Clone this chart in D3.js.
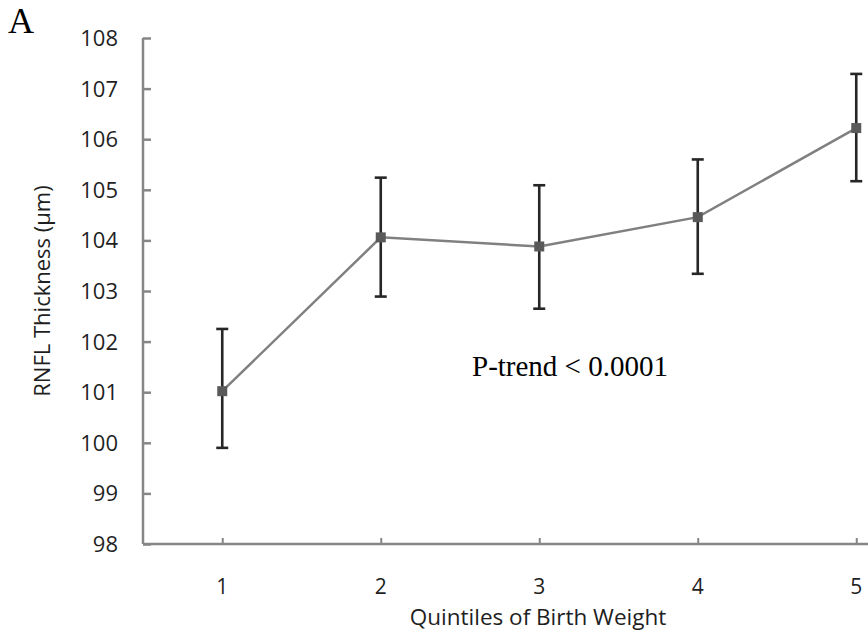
<!DOCTYPE html>
<html>
<head>
<meta charset="utf-8">
<script src="https://cdn.jsdelivr.net/npm/d3@7"></script>
<style>
  html, body { margin: 0; padding: 0; background: #fff; }
</style>
</head>
<body>
<div id="chart"></div>
<script>
const quintiles = [1, 2, 3, 4, 5]
const means = [101.02, 104.06, 103.88, 104.46, 106.22]
const lower = [99.9, 102.89, 102.65, 103.34, 105.17]
const upper = [102.25, 105.24, 105.09, 105.6, 107.29]
const yTicks = [98, 99, 100, 101, 102, 103, 104, 105, 106, 107, 108]

const width = 868
const height = 634
const axisX = 143
const axisY = 544
const band = 158.5

const data = quintiles.map((q, i) => ({ q, mean: means[i], lo: lower[i], hi: upper[i] }))

const x = d3.scaleLinear().domain([0.5, 5.5]).range([axisX, axisX + 5 * band])
const y = d3.scaleLinear().domain([98, 108]).range([axisY, 38])

const svg = d3
  .select('#chart')
  .append('svg')
  .attr('width', width)
  .attr('height', height)
  .attr('font-family', '"Open Sans", sans-serif')

const axisColor = '#868686'
const textColor = '#1f1f1f'

// y axis
const yAxis = svg
  .append('g')
  .attr('transform', `translate(${axisX},0)`)
  .call(d3.axisRight(y).tickValues(yTicks).tickSize(8).tickFormat(''))
yAxis.select('.domain').attr('stroke', axisColor).attr('stroke-width', 2.5).attr('d', `M0,${y(108)}V${axisY}`)
yAxis.selectAll('.tick line').attr('stroke', axisColor).attr('stroke-width', 2.5)

svg
  .append('g')
  .selectAll('text')
  .data(yTicks)
  .join('text')
  .attr('x', 118)
  .attr('y', d => y(d))
  .attr('dy', '0.36em')
  .attr('text-anchor', 'end')
  .attr('font-size', 22)
  .attr('fill', textColor)
  .text(d => d)

// x axis
const xAxis = svg
  .append('g')
  .attr('transform', `translate(0,${axisY})`)
  .call(d3.axisTop(x).tickValues(quintiles).tickSize(6).tickFormat(''))
xAxis.select('.domain').attr('stroke', axisColor).attr('stroke-width', 2.5).attr('d', `M${axisX},0H${axisX + 5 * band}`)
xAxis.selectAll('.tick line').attr('stroke', axisColor).attr('stroke-width', 2)

svg
  .append('g')
  .selectAll('text')
  .data(quintiles)
  .join('text')
  .attr('x', d => x(d))
  .attr('y', 594)
  .attr('text-anchor', 'middle')
  .attr('font-size', 21)
  .attr('fill', textColor)
  .text(d => d)

svg
  .append('text')
  .attr('x', 538)
  .attr('y', 625)
  .attr('text-anchor', 'middle')
  .attr('font-size', 22.5)
  .attr('fill', textColor)
  .text('Quintiles of Birth Weight')

svg
  .append('text')
  .attr('transform', `translate(50,${(y(108) + axisY) / 2}) rotate(-90)`)
  .attr('text-anchor', 'middle')
  .attr('font-size', 22)
  .attr('fill', textColor)
  .text('RNFL Thickness (μm)')

// line
svg
  .append('path')
  .datum(data)
  .attr('fill', 'none')
  .attr('stroke', '#808080')
  .attr('stroke-width', 2.5)
  .attr('d', d3.line().x(d => x(d.q)).y(d => y(d.mean)))

// error bars
const eb = svg.append('g').attr('stroke', '#262626').attr('stroke-width', 2.6)
eb.selectAll('line.v')
  .data(data)
  .join('line')
  .attr('class', 'v')
  .attr('x1', d => x(d.q))
  .attr('x2', d => x(d.q))
  .attr('y1', d => y(d.lo))
  .attr('y2', d => y(d.hi))
eb.selectAll('line.top')
  .data(data)
  .join('line')
  .attr('class', 'top')
  .attr('x1', d => x(d.q) - 6)
  .attr('x2', d => x(d.q) + 6)
  .attr('y1', d => y(d.hi))
  .attr('y2', d => y(d.hi))
eb.selectAll('line.bot')
  .data(data)
  .join('line')
  .attr('class', 'bot')
  .attr('x1', d => x(d.q) - 6)
  .attr('x2', d => x(d.q) + 6)
  .attr('y1', d => y(d.lo))
  .attr('y2', d => y(d.lo))

// markers
svg
  .append('g')
  .selectAll('rect')
  .data(data)
  .join('rect')
  .attr('x', d => x(d.q) - 5)
  .attr('y', d => y(d.mean) - 5)
  .attr('width', 10)
  .attr('height', 10)
  .attr('fill', '#595959')

svg
  .append('text')
  .attr('x', 472)
  .attr('y', 376)
  .attr('font-family', '"Liberation Serif", "Times New Roman", serif')
  .attr('font-size', 29)
  .attr('fill', '#000')
  .text('P-trend < 0.0001')

svg
  .append('text')
  .attr('x', 8)
  .attr('y', 33)
  .attr('font-family', '"Liberation Serif", "Times New Roman", serif')
  .attr('font-size', 36)
  .attr('fill', '#000')
  .text('A')
</script>
</body>
</html>
